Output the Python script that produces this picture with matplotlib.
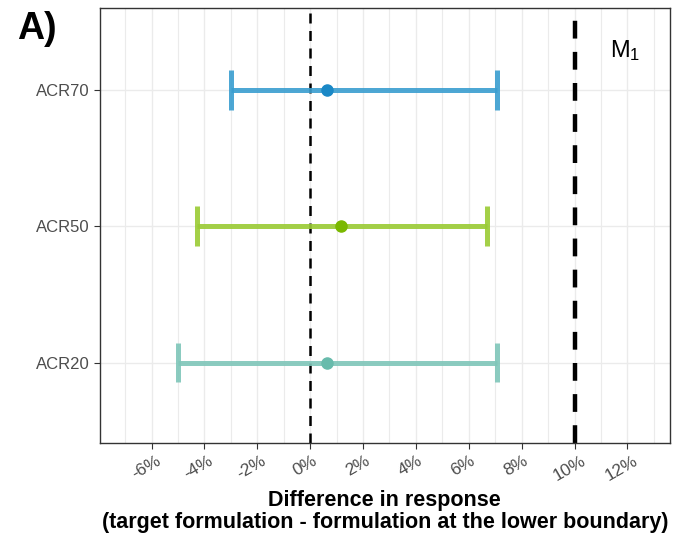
import numpy as np
import matplotlib
matplotlib.use("Agg")
import matplotlib.pyplot as plt
import matplotlib.transforms as mtransforms
from matplotlib.ticker import MultipleLocator, FuncFormatter

plt.rcParams["font.family"] = ["Liberation Sans", "DejaVu Sans"]

# difference in response (%) with 90% interval
endpoints = ["ACR20", "ACR50", "ACR70"]
estimate = [0.65, 1.17, 0.65]
lower = [-5.0, -4.28, -3.0]
upper = [7.05, 6.67, 7.05]
line_colors = ["#7fc6b9", "#9acb34", "#3a9ed0"]
point_colors = ["#68bbac", "#7ab800", "#1a88c6"]

margin = 10  # M1 margin
xticks = [-6, -4, -2, 0, 2, 4, 6, 8, 10, 12]

fig = plt.figure(figsize=(6.82, 5.35), dpi=100)
ax = fig.add_axes([0.1466, 0.172, 0.8354, 0.813])

ypos = np.arange(1, len(endpoints) + 1)
for y, est, lo, hi, lc, pc in zip(ypos, estimate, lower, upper, line_colors, point_colors):
    ax.plot([lo, hi], [y, y], color=lc, lw=3.6, alpha=0.9, solid_capstyle="butt", zorder=3)
    for xv in (lo, hi):
        ax.plot([xv, xv], [y - 0.145, y + 0.145], color=lc, lw=3.6, alpha=0.9,
                solid_capstyle="butt", zorder=3)
    ax.plot(est, y, "o", color=pc, ms=8, zorder=4)

ax.axvline(0, color="black", lw=1.8, ls=(0, (4, 3)), zorder=2)
ax.axvline(margin, color="black", lw=3.2, ls=(0, (4, 3)), zorder=2)
ax.text(11.33, 3.24, r"$\mathregular{M_1}$", fontsize=17, ha="left", va="baseline")

ax.set_xlim(-7.95, 13.6)
ax.set_ylim(0.41, 3.6)
ax.xaxis.set_minor_locator(MultipleLocator(1))
ax.set_xticks(xticks)
ax.xaxis.set_major_formatter(FuncFormatter(lambda v, p: f"{v:.0f}%"))
ax.set_yticks(ypos)
ax.set_yticklabels(endpoints)

ax.grid(True, which="major", color="#ebebeb", lw=1.0, zorder=0)
ax.grid(True, which="minor", axis="x", color="#ebebeb", lw=0.8, zorder=0)
ax.set_axisbelow(True)
for s in ax.spines.values():
    s.set_color("#333333")
    s.set_linewidth(1.0)
ax.tick_params(axis="both", which="major", length=4, color="#333333",
               labelcolor="#4d4d4d", labelsize=12)
ax.tick_params(axis="x", which="minor", length=0)
ax.tick_params(axis="x", pad=3)
shift = mtransforms.ScaledTranslation(-4 / 72, 0, fig.dpi_scale_trans)
for lab in ax.get_xticklabels():
    lab.set_rotation(30)
    lab.set_ha("center")
    lab.set_fontsize(12.5)
    lab.set_transform(lab.get_transform() + shift)

ax.set_xlabel("Difference in response\n(target formulation - formulation at the lower boundary)",
              fontsize=15.5, fontweight="bold", linespacing=1.05, labelpad=5)
fig.text(0.025, 0.927, "A)", fontsize=27, fontweight="bold", va="baseline")

fig.savefig("out.png", dpi=100)
